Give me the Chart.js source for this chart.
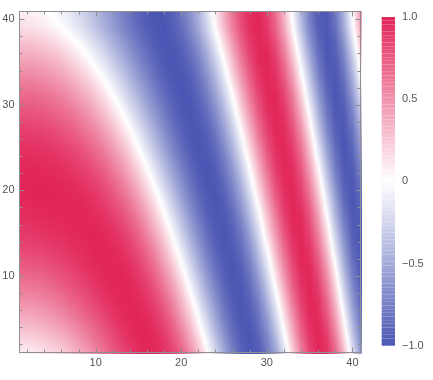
<!DOCTYPE html>
<html>
<head>
<meta charset="utf-8">
<script src="https://cdn.jsdelivr.net/npm/chart.js@4.4.1/dist/chart.umd.min.js"></script>
<style>
  body { margin: 0; background: #fff; }
  #wrap { position: relative; width: 433px; height: 380px; }
  canvas { position: absolute; top: 0; }
  #plot { left: 0; }
  #bar { left: 370px; }
</style>
</head>
<body>
<div id="wrap">
  <canvas id="plot" width="433" height="380"></canvas>
  <canvas id="bar" width="63" height="380"></canvas>
</div>
<script>
// grid columns (x) and sampled rows (y)
const xVals = [1,2,3,4,5,6,7,8,9,10,11,12,13,14,15,16,17,18,19,20,21,22,23,24,25,26,27,28,29,30,31,32,33,34,35,36,37,38,39,40,41];
const yVals = [1,3,5,7,9,11,13,15,17,19,21,23,25,27,29,31,33,35,37,39,41];

// values, one row per y (bottom to top)
const z = [
  [0.07,0.08,0.09,0.13,0.17,0.22,0.29,0.37,0.45,0.55,0.64,0.74,0.83,0.90,0.96,1.00,0.99,0.95,0.86,0.73,0.54,0.31,0.04,-0.24,-0.51,-0.75,-0.92,-1.00,-0.96,-0.81,-0.55,-0.20,0.20,0.57,0.85,0.99,0.95,0.71,0.31,-0.17,-0.61],
  [0.22,0.23,0.25,0.28,0.32,0.37,0.43,0.51,0.58,0.67,0.75,0.83,0.90,0.96,0.99,1.00,0.97,0.90,0.78,0.61,0.40,0.16,-0.11,-0.38,-0.63,-0.84,-0.97,-1.00,-0.91,-0.71,-0.41,-0.04,0.34,0.69,0.92,1.00,0.89,0.59,0.16,-0.32,-0.73],
  [0.37,0.37,0.39,0.42,0.46,0.51,0.57,0.63,0.70,0.77,0.84,0.91,0.96,0.99,1.00,0.98,0.92,0.82,0.67,0.48,0.26,0.00,-0.26,-0.52,-0.75,-0.91,-0.99,-0.97,-0.84,-0.60,-0.27,0.11,0.48,0.79,0.97,0.98,0.80,0.46,0.01,-0.46,-0.82],
  [0.51,0.51,0.53,0.55,0.59,0.63,0.69,0.74,0.80,0.86,0.92,0.96,0.99,1.00,0.98,0.93,0.85,0.72,0.55,0.34,0.11,-0.15,-0.41,-0.64,-0.84,-0.96,-1.00,-0.93,-0.75,-0.47,-0.12,0.26,0.61,0.87,1.00,0.94,0.70,0.32,-0.15,-0.59,-0.90],
  [0.63,0.64,0.65,0.67,0.71,0.75,0.79,0.84,0.88,0.93,0.97,0.99,1.00,0.99,0.94,0.87,0.75,0.60,0.42,0.20,-0.05,-0.30,-0.54,-0.75,-0.91,-0.99,-0.98,-0.86,-0.64,-0.33,0.04,0.41,0.73,0.94,1.00,0.88,0.59,0.17,-0.30,-0.70,-0.96],
  [0.74,0.75,0.76,0.78,0.81,0.84,0.87,0.91,0.95,0.97,0.99,1.00,0.99,0.95,0.88,0.78,0.65,0.47,0.27,0.04,-0.20,-0.44,-0.66,-0.85,-0.96,-1.00,-0.94,-0.77,-0.51,-0.18,0.19,0.54,0.82,0.98,0.98,0.79,0.46,0.02,-0.44,-0.80,-0.99],
  [0.84,0.84,0.85,0.87,0.89,0.91,0.94,0.96,0.98,1.00,1.00,0.98,0.95,0.89,0.80,0.68,0.52,0.33,0.12,-0.11,-0.35,-0.57,-0.77,-0.92,-0.99,-0.98,-0.87,-0.67,-0.37,-0.03,0.34,0.66,0.90,1.00,0.93,0.69,0.31,-0.14,-0.57,-0.89,-1.00],
  [0.91,0.91,0.92,0.93,0.95,0.96,0.98,0.99,1.00,1.00,0.98,0.95,0.89,0.81,0.70,0.55,0.38,0.19,-0.03,-0.26,-0.49,-0.69,-0.86,-0.97,-1.00,-0.94,-0.79,-0.54,-0.23,0.13,0.48,0.77,0.96,0.99,0.86,0.57,0.17,-0.29,-0.69,-0.95,-0.99],
  [0.96,0.96,0.97,0.98,0.99,0.99,1.00,1.00,0.99,0.97,0.94,0.88,0.81,0.71,0.58,0.42,0.24,0.03,-0.18,-0.40,-0.61,-0.79,-0.93,-0.99,-0.98,-0.88,-0.68,-0.41,-0.08,0.28,0.60,0.86,0.99,0.97,0.78,0.44,0.01,-0.43,-0.79,-0.98,-0.95],
  [0.99,0.99,1.00,1.00,1.00,1.00,0.99,0.98,0.96,0.93,0.87,0.80,0.71,0.59,0.45,0.28,0.09,-0.12,-0.33,-0.54,-0.73,-0.88,-0.97,-1.00,-0.94,-0.79,-0.56,-0.26,0.08,0.42,0.72,0.93,1.00,0.91,0.67,0.30,-0.14,-0.56,-0.88,-1.00,-0.89],
  [1.00,1.00,1.00,1.00,0.99,0.98,0.97,0.94,0.91,0.86,0.79,0.70,0.59,0.46,0.30,0.13,-0.07,-0.27,-0.47,-0.66,-0.82,-0.94,-1.00,-0.98,-0.88,-0.69,-0.43,-0.11,0.23,0.55,0.82,0.97,0.99,0.84,0.55,0.15,-0.29,-0.68,-0.94,-0.99,-0.81],
  [0.98,0.98,0.98,0.97,0.96,0.94,0.92,0.88,0.83,0.77,0.69,0.58,0.46,0.32,0.15,-0.03,-0.22,-0.41,-0.60,-0.77,-0.90,-0.98,-1.00,-0.94,-0.79,-0.57,-0.29,0.04,0.37,0.68,0.90,1.00,0.95,0.75,0.42,0.00,-0.43,-0.79,-0.98,-0.96,-0.71],
  [0.94,0.94,0.93,0.92,0.90,0.88,0.84,0.80,0.74,0.66,0.57,0.45,0.32,0.17,0.00,-0.18,-0.37,-0.55,-0.72,-0.86,-0.96,-1.00,-0.97,-0.87,-0.69,-0.44,-0.14,0.19,0.51,0.78,0.95,1.00,0.89,0.64,0.27,-0.16,-0.57,-0.87,-1.00,-0.90,-0.59],
  [0.88,0.88,0.87,0.85,0.83,0.79,0.75,0.69,0.62,0.54,0.43,0.31,0.17,0.02,-0.15,-0.33,-0.50,-0.67,-0.82,-0.93,-0.99,-0.99,-0.93,-0.79,-0.57,-0.30,0.02,0.34,0.64,0.87,0.99,0.97,0.81,0.51,0.12,-0.31,-0.69,-0.94,-0.99,-0.83,-0.46],
  [0.80,0.79,0.78,0.76,0.73,0.69,0.64,0.58,0.50,0.40,0.29,0.16,0.02,-0.14,-0.30,-0.47,-0.63,-0.78,-0.89,-0.97,-1.00,-0.96,-0.86,-0.68,-0.44,-0.15,0.17,0.48,0.75,0.93,1.00,0.93,0.71,0.38,-0.03,-0.45,-0.79,-0.98,-0.97,-0.73,-0.32],
  [0.69,0.69,0.68,0.65,0.62,0.57,0.52,0.44,0.36,0.26,0.14,0.01,-0.13,-0.29,-0.44,-0.60,-0.74,-0.86,-0.95,-1.00,-0.99,-0.91,-0.77,-0.56,-0.30,0.00,0.32,0.61,0.84,0.98,0.99,0.86,0.60,0.23,-0.18,-0.58,-0.87,-1.00,-0.91,-0.62,-0.18],
  [0.58,0.57,0.56,0.53,0.49,0.44,0.38,0.30,0.21,0.11,-0.01,-0.14,-0.28,-0.43,-0.58,-0.71,-0.84,-0.93,-0.99,-1.00,-0.95,-0.84,-0.66,-0.43,-0.15,0.16,0.46,0.72,0.91,1.00,0.95,0.77,0.47,0.08,-0.33,-0.70,-0.94,-0.99,-0.84,-0.49,-0.02],
  [0.44,0.44,0.42,0.39,0.35,0.30,0.23,0.15,0.06,-0.05,-0.16,-0.29,-0.43,-0.56,-0.69,-0.81,-0.91,-0.98,-1.00,-0.97,-0.89,-0.75,-0.54,-0.29,0.00,0.31,0.59,0.82,0.97,1.00,0.90,0.67,0.33,-0.07,-0.47,-0.80,-0.98,-0.97,-0.75,-0.36,0.13],
  [0.30,0.30,0.28,0.25,0.21,0.15,0.08,0.00,-0.09,-0.20,-0.31,-0.44,-0.56,-0.68,-0.80,-0.89,-0.96,-1.00,-0.99,-0.93,-0.81,-0.64,-0.41,-0.14,0.16,0.45,0.71,0.90,0.99,0.97,0.82,0.54,0.18,-0.23,-0.60,-0.88,-1.00,-0.92,-0.64,-0.21,0.28],
  [0.15,0.15,0.13,0.10,0.05,0.00,-0.07,-0.15,-0.24,-0.35,-0.46,-0.57,-0.68,-0.79,-0.88,-0.95,-0.99,-1.00,-0.95,-0.86,-0.71,-0.51,-0.26,0.02,0.31,0.58,0.81,0.95,1.00,0.92,0.72,0.41,0.03,-0.37,-0.72,-0.94,-0.99,-0.85,-0.51,-0.06,0.42],
  [0.07,0.06,0.04,0.01,-0.03,-0.09,-0.15,-0.23,-0.32,-0.42,-0.53,-0.63,-0.74,-0.84,-0.92,-0.97,-1.00,-0.99,-0.93,-0.81,-0.65,-0.44,-0.18,0.10,0.38,0.65,0.85,0.98,0.99,0.89,0.66,0.33,-0.06,-0.45,-0.77,-0.97,-0.98,-0.80,-0.44,0.02,0.49]
];

const xTickLabels = [10, 20, 30, 40];
const yTickLabels = [10, 20, 30, 40];
const cbTicks = [-1, -0.5, 0, 0.5, 1];

const hiColor = [226, 37, 89];
const loColor = [74, 86, 179];
const tickFont = { family: 'Liberation Sans', size: 11 };
const labelColor = '#555';

function colorFor(v) {
  v = Math.max(-1, Math.min(1, v));
  const c = v >= 0 ? hiColor : loColor;
  const t = Math.abs(v);
  return [255 + (c[0] - 255) * t, 255 + (c[1] - 255) * t, 255 + (c[2] - 255) * t];
}

// smooth density image drawn through the chart's scales
const heatmap = {
  id: 'heatmap',
  beforeDatasetsDraw(chart) {
    const { ctx, chartArea: a, scales: { x, y } } = chart;
    const w = Math.ceil(a.right - a.left), h = Math.ceil(a.bottom - a.top);
    const off = document.createElement('canvas');
    off.width = w; off.height = h;
    const octx = off.getContext('2d');
    const img = octx.createImageData(w, h);
    const nx = xVals.length, ny = yVals.length;
    const dx = xVals[1] - xVals[0], dy = yVals[1] - yVals[0];
    for (let py = 0; py < h; py++) {
      let fj = (y.getValueForPixel(a.top + py + 0.5) - yVals[0]) / dy;
      fj = Math.max(0, Math.min(ny - 1, fj));
      const j0 = Math.min(ny - 2, Math.floor(fj)), tj = fj - j0;
      for (let px = 0; px < w; px++) {
        let fi = (x.getValueForPixel(a.left + px + 0.5) - xVals[0]) / dx;
        fi = Math.max(0, Math.min(nx - 1, fi));
        const i0 = Math.min(nx - 2, Math.floor(fi)), ti = fi - i0;
        const lo = z[j0][i0] * (1 - ti) + z[j0][i0 + 1] * ti;
        const hi = z[j0 + 1][i0] * (1 - ti) + z[j0 + 1][i0 + 1] * ti;
        const c = colorFor(lo * (1 - tj) + hi * tj);
        const k = (py * w + px) * 4;
        img.data[k] = c[0]; img.data[k + 1] = c[1]; img.data[k + 2] = c[2]; img.data[k + 3] = 255;
      }
    }
    octx.putImageData(img, 0, 0);
    ctx.drawImage(off, a.left, a.top);
  }
};

// frame with inward ticks on all four sides
const frame = {
  id: 'frame',
  afterDraw(chart) {
    const { ctx, chartArea: a, scales: { x, y } } = chart;
    ctx.save();
    ctx.strokeStyle = '#8f8f8f';
    ctx.lineWidth = 1;
    const L = Math.round(a.left) + 0.5, R = Math.round(a.right) - 0.5;
    const T = Math.round(a.top) + 0.5, B = Math.round(a.bottom) - 0.5;
    ctx.strokeRect(L, T, R - L, B - T);
    ctx.beginPath();
    for (let v = 2; v <= 40; v += 2) {
      const lx = xTickLabels.includes(v) ? 5 : 3;
      const px = Math.round(x.getPixelForValue(v)) + 0.5;
      ctx.moveTo(px, B); ctx.lineTo(px, B - lx);
      ctx.moveTo(px, T); ctx.lineTo(px, T + lx);
      const ly = yTickLabels.includes(v) ? 5 : 3;
      const py = Math.round(y.getPixelForValue(v)) + 0.5;
      ctx.moveTo(L, py); ctx.lineTo(L + ly, py);
      ctx.moveTo(R, py); ctx.lineTo(R - ly, py);
    }
    ctx.stroke();
    ctx.restore();
  }
};

const colorbar = {
  id: 'colorbar',
  beforeDatasetsDraw(chart) {
    const { ctx, chartArea: a, scales: { y } } = chart;
    const steps = 90;
    for (let i = 0; i < steps; i++) {
      const v0 = -1 + 2 * i / steps, v1 = -1 + 2 * (i + 1) / steps;
      const c = colorFor((v0 + v1) / 2);
      const p0 = y.getPixelForValue(v0), p1 = y.getPixelForValue(v1);
      ctx.fillStyle = `rgb(${c[0]},${c[1]},${c[2]})`;
      ctx.fillRect(a.left, p1, a.right - a.left, p0 - p1);
    }
  }
};

new Chart(document.getElementById('plot'), {
  type: 'scatter',
  data: { datasets: [] },
  options: {
    responsive: false,
    animation: false,
    layout: { padding: { left: 0, top: 9, right: 72, bottom: 0 } },
    plugins: { legend: { display: false }, tooltip: { enabled: false } },
    scales: {
      x: {
        type: 'linear', min: 1, max: 41,
        afterFit: s => { s.height = 27; },
        afterBuildTicks: s => { s.ticks = xTickLabels.map(v => ({ value: v })); },
        grid: { display: false, drawTicks: false },
        border: { display: false },
        ticks: { padding: 3, color: labelColor, font: tickFont, maxRotation: 0, autoSkip: false }
      },
      y: {
        type: 'linear', min: 1, max: 41,
        afterFit: s => { s.width = 18.6; },
        afterBuildTicks: s => { s.ticks = yTickLabels.map(v => ({ value: v })); },
        grid: { display: false, drawTicks: false },
        border: { display: false },
        ticks: { padding: 4, color: labelColor, font: tickFont, autoSkip: false }
      }
    }
  },
  plugins: [heatmap, frame]
});

new Chart(document.getElementById('bar'), {
  type: 'scatter',
  data: { datasets: [] },
  options: {
    responsive: false,
    animation: false,
    layout: { padding: { left: 11.7, top: 17, right: 0, bottom: 34.3 } },
    plugins: { legend: { display: false }, tooltip: { enabled: false } },
    scales: {
      x: { display: false, min: 0, max: 1 },
      y: {
        position: 'right', min: -1, max: 1,
        afterFit: s => { s.width = 38; },
        afterBuildTicks: s => { s.ticks = cbTicks.map(v => ({ value: v })); },
        grid: { display: false, drawTicks: false },
        border: { display: false },
        ticks: {
          padding: 7, color: labelColor, font: tickFont, autoSkip: false,
          callback: v => v === 0 ? '0' : (v < 0 ? '\u2212' : '') + Math.abs(v).toFixed(1)
        }
      }
    }
  },
  plugins: [colorbar]
});
</script>
</body>
</html>
